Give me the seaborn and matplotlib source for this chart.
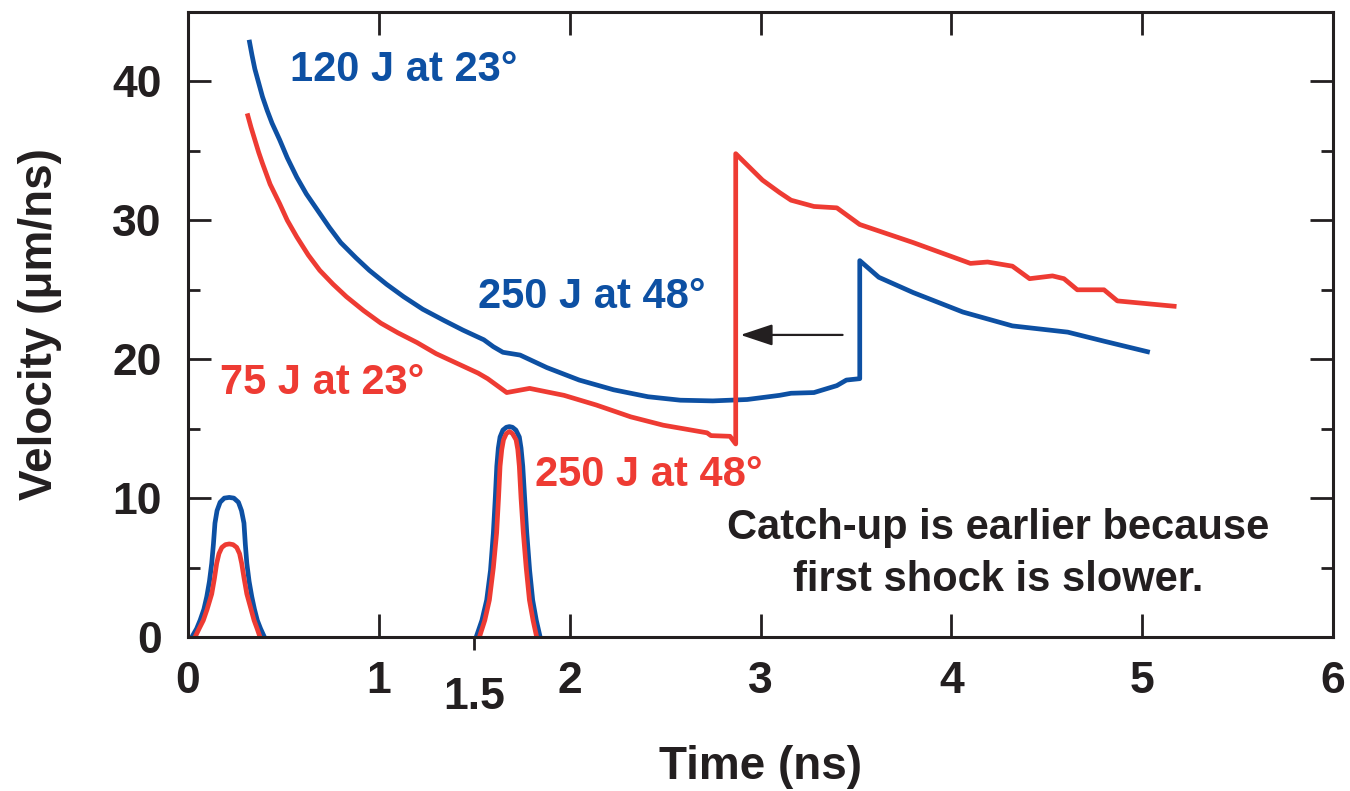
import matplotlib
matplotlib.use("Agg")
import matplotlib.pyplot as plt
from matplotlib.ticker import FixedLocator, FixedFormatter
import pandas as pd
import seaborn as sns

# Shock velocity, 120 J at 23 deg followed by 250 J at 48 deg
blue_t = [0.32, 0.335, 0.35, 0.37, 0.39, 0.415, 0.44, 0.48, 0.52, 0.57, 0.62, 0.68,
          0.74, 0.80, 0.88, 0.95, 1.04, 1.13, 1.23, 1.34, 1.44, 1.55, 1.60, 1.65,
          1.74, 1.88, 2.05, 2.23, 2.41, 2.58, 2.75, 2.93, 3.10, 3.16, 3.28, 3.40,
          3.45, 3.52, 3.52, 3.62, 3.80, 4.06, 4.32, 4.61, 4.80, 5.04]
blue_v = [43.0, 41.9, 40.9, 39.9, 38.9, 37.9, 37.0, 35.8, 34.5, 33.1, 31.9, 30.7,
          29.5, 28.4, 27.3, 26.4, 25.4, 24.5, 23.6, 22.8, 22.1, 21.4, 20.9, 20.5,
          20.3, 19.4, 18.5, 17.8, 17.3, 17.05, 17.0, 17.1, 17.4, 17.55, 17.6, 18.1,
          18.5, 18.6, 27.1, 25.9, 24.8, 23.4, 22.4, 21.95, 21.3, 20.5]

# Shock velocity, 75 J at 23 deg followed by 250 J at 48 deg
red_t = [0.31, 0.33, 0.35, 0.37, 0.39, 0.43, 0.48, 0.52, 0.57, 0.63, 0.69, 0.76,
         0.83, 0.92, 1.01, 1.10, 1.20, 1.30, 1.41, 1.52, 1.57, 1.67, 1.79, 1.97,
         2.14, 2.32, 2.49, 2.72, 2.74, 2.84, 2.87, 2.87, 3.01, 3.10, 3.16, 3.28,
         3.40, 3.52, 3.80, 4.10, 4.19, 4.32, 4.41, 4.53, 4.59, 4.66, 4.80, 4.87, 5.18]
red_v = [37.7, 36.7, 35.8, 34.9, 34.1, 32.6, 31.2, 30.0, 28.8, 27.5, 26.4, 25.4,
         24.5, 23.5, 22.6, 21.9, 21.2, 20.4, 19.7, 19.0, 18.6, 17.6, 17.9, 17.4,
         16.7, 15.85, 15.25, 14.7, 14.5, 14.45, 13.9, 34.8, 32.9, 32.0, 31.45, 31.0,
         30.9, 29.7, 28.4, 26.9, 27.0, 26.7, 25.8, 26.0, 25.8, 25.0, 25.0, 24.2, 23.8]

# Laser pulse shapes (first pulse)
blue_p1_t = [0.02, 0.045, 0.063, 0.083, 0.098, 0.112, 0.124, 0.133, 0.141, 0.152,
             0.168, 0.19, 0.216, 0.24, 0.264, 0.28, 0.293, 0.30, 0.308, 0.32,
             0.334, 0.348, 0.363, 0.38, 0.40]
blue_p1_v = [0.0, 0.6, 1.2, 2.0, 2.9, 4.0, 5.3, 6.7, 8.2, 9.1,
             9.7, 10.0, 10.05, 10.0, 9.7, 9.1, 8.2, 6.7, 5.3, 4.0,
             2.9, 2.0, 1.2, 0.6, 0.0]
red_p1_t = [0.037, 0.058, 0.08, 0.10, 0.124, 0.138, 0.15, 0.162, 0.177, 0.196,
            0.216, 0.236, 0.255, 0.27, 0.281, 0.294, 0.308, 0.33, 0.346, 0.362, 0.377]
red_p1_v = [0.0, 0.6, 1.2, 2.0, 3.1, 4.2, 5.3, 6.0, 6.45, 6.65,
            6.7, 6.65, 6.45, 6.0, 5.3, 4.2, 3.1, 2.0, 1.2, 0.6, 0.0]

# Laser pulse shapes (second pulse)
blue_p2_t = [1.51, 1.54, 1.565, 1.585, 1.60, 1.61, 1.618, 1.626, 1.635, 1.65, 1.668,
             1.684, 1.70, 1.718, 1.736, 1.745, 1.754, 1.764, 1.775, 1.79, 1.806,
             1.825, 1.845]
blue_p2_v = [0.0, 1.2, 2.66, 4.8, 7.5, 10.0, 12.3, 13.6, 14.4, 14.9, 15.1,
             15.15, 15.1, 14.9, 14.4, 13.6, 12.3, 10.0, 7.5, 4.8, 2.66,
             1.2, 0.0]
red_p2_t = [1.527, 1.555, 1.579, 1.60, 1.617, 1.627, 1.635, 1.644, 1.653, 1.668,
            1.684, 1.70, 1.719, 1.728, 1.736, 1.745, 1.757, 1.772, 1.789, 1.808, 1.827]
red_p2_v = [0.0, 1.2, 2.66, 5.0, 7.5, 10.0, 12.3, 13.5, 14.2, 14.65,
            14.8, 14.65, 14.2, 13.5, 12.3, 10.0, 7.5, 5.0, 2.66, 1.2, 0.0]

x_ticks = [0, 1, 2, 3, 4, 5, 6]
x_tick_labels = ["0", "1", "2", "3", "4", "5", "6"]
y_ticks = [0, 10, 20, 30, 40]
y_tick_labels = ["0", "10", "20", "30", "40"]
y_minor = [5, 15, 25, 35]

BLUE = "#0d50a3"
RED = "#ee3b33"
INK = "#231f20"

sns.set_theme(style="ticks")
plt.rcParams["font.family"] = ["Liberation Sans", "DejaVu Sans"]
plt.rcParams["font.weight"] = "bold"

fig = plt.figure(figsize=(13.5, 7.91), dpi=100)
ax = fig.add_axes([0.1393, 0.1947, 0.8481, 0.7901])

series = [
    (blue_t, blue_v, BLUE), (red_t, red_v, RED),
    (blue_p1_t, blue_p1_v, BLUE), (red_p1_t, red_p1_v, RED),
    (blue_p2_t, blue_p2_v, BLUE), (red_p2_t, red_p2_v, RED),
]
for t, v, c in series:
    df = pd.DataFrame({"t": t, "v": v})
    sns.lineplot(data=df, x="t", y="v", ax=ax, color=c, lw=3.4,
                 sort=False, estimator=None, solid_joinstyle="round",
                 solid_capstyle="butt")

ax.set_xlim(0, 6)
ax.set_ylim(0, 45)

# Major ticks inside on all four sides
ax.xaxis.set_major_locator(FixedLocator(x_ticks))
ax.xaxis.set_major_formatter(FixedFormatter(x_tick_labels))
ax.yaxis.set_major_locator(FixedLocator(y_ticks))
ax.yaxis.set_major_formatter(FixedFormatter(y_tick_labels))
ax.yaxis.set_minor_locator(FixedLocator(y_minor))
# Extra outward tick marking the start of the second pulse
ax.xaxis.set_minor_locator(FixedLocator([1.5]))
ax.xaxis.set_minor_formatter(FixedFormatter(["1.5"]))

TICK_FS = 32
ax.tick_params(axis="both", which="major", direction="in", length=16.5, width=2.0,
               color=INK, labelsize=TICK_FS, labelcolor=INK)
ax.tick_params(axis="x", which="major", top=True, bottom=True, pad=17)
ax.tick_params(axis="y", which="major", left=True, right=True, pad=19)
ax.tick_params(axis="y", which="minor", direction="in", length=8.6, width=2.0,
               color=INK, left=True, right=True)
ax.tick_params(axis="x", which="minor", direction="out", length=9.5, width=2.0,
               color=INK, bottom=True, top=False, labelsize=TICK_FS, labelcolor=INK,
               pad=19)
for lab in ax.get_xticklabels(which="both") + ax.get_yticklabels():
    lab.set_fontweight("bold")

for s in ax.spines.values():
    s.set_visible(True)
    s.set_linewidth(2.2)
    s.set_color(INK)

ax.set_xlabel("Time (ns)", fontsize=33, fontweight="bold", color=INK, labelpad=20)
ax.set_ylabel("Velocity (\u03bcm/ns)", fontsize=33, fontweight="bold", color=INK,
              labelpad=36)

lab_kw = dict(fontsize=30, fontweight="bold", va="center", ha="left")
ax.text(0.534, 40.8, "120 J at 23°", color=BLUE, **lab_kw)
ax.text(1.52, 24.5, "250 J at 48°", color=BLUE, **lab_kw)
ax.text(0.168, 18.3, "75 J at 23°", color=RED, **lab_kw)
ax.text(1.82, 11.7, "250 J at 48°", color=RED, **lab_kw)
ax.text(4.245, 5.95, "Catch-up is earlier because\nfirst shock is slower.",
        color=INK, fontsize=30, fontweight="bold", ha="center", va="center",
        linespacing=1.38)

ax.annotate("", xy=(2.895, 21.75), xytext=(3.43, 21.75),
            arrowprops=dict(arrowstyle="-|>,head_length=0.9,head_width=0.3",
                            color=INK, lw=1.6, mutation_scale=22, shrinkA=0, shrinkB=0))

fig.savefig("out.png", dpi=100)
